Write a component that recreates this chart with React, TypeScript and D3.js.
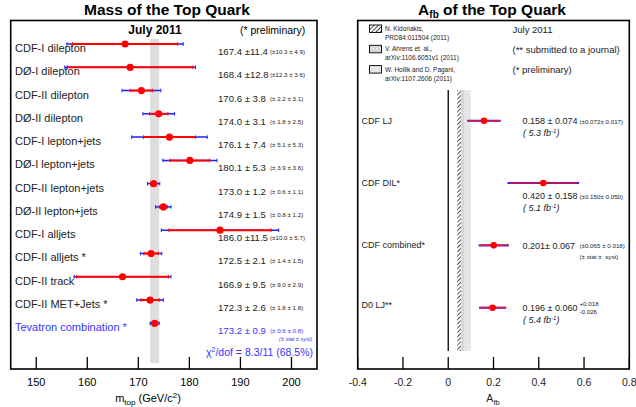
import * as d3 from "d3";

// ---- left panel: top mass measurements ----
const massLabels = [
  "CDF-I dilepton",
  "DØ-I dilepton",
  "CDF-II dilepton",
  "DØ-II dilepton",
  "CDF-I lepton+jets",
  "DØ-I lepton+jets",
  "CDF-II lepton+jets",
  "DØ-II lepton+jets",
  "CDF-I alljets",
  "CDF-II alljets *",
  "CDF-II track",
  "CDF-II MET+Jets *",
  "Tevatron combination *",
];
const massValues = [167.4, 168.4, 170.6, 174.0, 176.1, 180.1, 173.0, 174.9, 186.0, 172.5, 166.9, 172.3, 173.2];
const massTotal = [11.4, 12.8, 3.8, 3.1, 7.4, 5.3, 1.2, 1.5, 11.5, 2.1, 9.5, 2.6, 0.9];
const massStat = [10.3, 12.3, 2.2, 1.8, 5.1, 3.9, 0.6, 0.8, 10.0, 1.4, 9.0, 1.8, 0.6];
const massSyst = [4.9, 3.6, 3.1, 2.5, 5.3, 3.6, 1.1, 1.2, 5.7, 1.5, 2.9, 1.8, 0.8];
const massTicks = [150, 160, 170, 180, 190, 200];

// ---- right panel: A_fb ----
const afbLabels = ["CDF LJ", "CDF DIL*", "CDF combined*", "D0 LJ**"];
const afbValues = [0.158, 0.42, 0.201, 0.196];
const afbTotal = [0.074, 0.158, 0.067, 0.06];
const afbStat = [0.072, 0.15, 0.065, 0.06];
const afbValueText = ["0.158 ± 0.074", "0.420 ± 0.158", "0.201± 0.067", "0.196 ± 0.060"];
const afbSmallText = ["(±0.072± 0.017)", "(±0.150± 0.050)", "(±0.065 ± 0.018)", ""];
const afbLumi = ["5.3", "5.1", "", "5.4"];
const afbTicks = [-0.4, -0.2, 0, 0.2, 0.4, 0.6, 0.8];
const afbTickText = ["-0.4", "-0.2", "0", "0.2", "0.4", "0.6", "0.8"];
// theory bands [low, high]
const theoryKidonakis = [0.04, 0.056];
const theoryAhrens = [0.056, 0.073];
const theoryHollik = [0.073, 0.1];

const font = "'Liberation Sans', Arial, Helvetica, sans-serif";
const red = "#ff0000";
const blue = "#1f1fff";
const textBlue = "#3535ff";

const fmt = (v: number, w: number) => {
  const s = v.toFixed(1);
  return s.length < w ? " " + s : s;
};

const MassPanel = () => {
  const x = d3.scaleLinear().domain([145, 205]).range([10.7, 317]);
  const y = d3.scalePoint<string>().domain(massLabels).range([44, 323.3]);
  const frameTop = 20.5;
  const frameBottom = 369;
  return (
    <g>
      <text x={167} y={15} textAnchor="middle" fontSize={15.5} fontWeight="bold">
        Mass of the Top Quark
      </text>
      <rect x={x(145)} y={frameTop} width={x(205) - x(145)} height={frameBottom - frameTop} fill="none" stroke="black" strokeWidth={1.6} />
      <text x={155} y={34} textAnchor="middle" fontSize={12} fontWeight="bold">
        July 2011
      </text>
      <text x={240} y={34} fontSize={10.5}>
        (* preliminary)
      </text>
      <rect
        x={x(massValues[12] - massTotal[12])}
        y={39}
        width={x(massValues[12] + massTotal[12]) - x(massValues[12] - massTotal[12])}
        height={363 - 39}
        fill="#dedede"
      />
      {massLabels.map((lab, i) => {
        const cy = y(lab)!;
        const last = i === massLabels.length - 1;
        const col = last ? textBlue : "#222";
        const v = massValues[i];
        return (
          <g key={lab}>
            <text x={15} y={cy + 8} fontSize={11} fill={col}>
              {lab}
            </text>
            <line x1={x(v - massTotal[i])} x2={x(v + massTotal[i])} y1={cy} y2={cy} stroke={blue} strokeWidth={1.5} />
            <line x1={x(v - massTotal[i])} x2={x(v - massTotal[i])} y1={cy - 1.8} y2={cy + 1.8} stroke={blue} strokeWidth={1} />
            <line x1={x(v + massTotal[i])} x2={x(v + massTotal[i])} y1={cy - 1.8} y2={cy + 1.8} stroke={blue} strokeWidth={1} />
            <line x1={x(v - massStat[i])} x2={x(v + massStat[i])} y1={cy} y2={cy} stroke={red} strokeWidth={2} />
            <line x1={x(v - massStat[i])} x2={x(v - massStat[i])} y1={cy - 1.8} y2={cy + 1.8} stroke={red} strokeWidth={1} />
            <line x1={x(v + massStat[i])} x2={x(v + massStat[i])} y1={cy - 1.8} y2={cy + 1.8} stroke={red} strokeWidth={1} />
            <circle cx={x(v)} cy={cy} r={3.6} fill={red} />
            <text x={218} y={cy + 11} fontSize={9.6} fill={col} xmlSpace="preserve">
              {`${v.toFixed(1)} ±${fmt(massTotal[i], 4)}`}
            </text>
            <text x={270} y={cy + 10} fontSize={6.2} fill={col} xmlSpace="preserve">
              {`(±${fmt(massStat[i], 4)} ±${fmt(massSyst[i], 4)})`}
            </text>
          </g>
        );
      })}
      <text x={312} y={y(massLabels[12])! + 18} fontSize={5.5} fill={textBlue} textAnchor="end" fontStyle="italic">
        (± stat ± syst)
      </text>
      <text x={313} y={y(massLabels[12])! + 33} fontSize={10.5} fill={textBlue} textAnchor="end">
        χ<tspan dy={-4} fontSize={7}>2</tspan>
        <tspan dy={4}>/dof = 8.3/11 (68.5%)</tspan>
      </text>
      {massTicks.map((t) => (
        <g key={t}>
          <line x1={x(t)} x2={x(t)} y1={frameBottom} y2={frameBottom - 12} stroke="black" strokeWidth={1.3} />
          <text x={x(t)} y={386} textAnchor="middle" fontSize={11}>
            {t}
          </text>
        </g>
      ))}
      <text x={148} y={402} textAnchor="middle" fontSize={11}>
        m<tspan dy={3} fontSize={8}>top</tspan>
        <tspan dy={-3}> (GeV/c</tspan>
        <tspan dy={-4} fontSize={8}>2</tspan>
        <tspan dy={4}>)</tspan>
      </text>
    </g>
  );
};

const AfbPanel = () => {
  const x = d3.scaleLinear().domain([-0.4, 0.8]).range([357.7, 629.3]);
  const y = d3.scalePoint<string>().domain(afbLabels).range([120.7, 307.7]);
  const frameTop = 20.5;
  const frameBottom = 369;
  const bandTop = 90;
  const bandBottom = 351;
  const legend = [
    { fill: "url(#hatch)", l1: "N. Kidonakis,", l2: "PRD84:011504 (2011)" },
    { fill: "url(#dots)", l1: "V. Ahrens et. al.,", l2: "arXiv:1106.6051v1 (2011)" },
    { fill: "#e6e6e6", l1: "W. Hollik and D. Pagani,", l2: "arXiv:1107.2606 (2011)" },
  ];
  const notes = ["July 2011", "(** submitted to a journal)", "(* preliminary)"];
  return (
    <g>
      <text x={492} y={15} textAnchor="middle" fontSize={15.5} fontWeight="bold">
        A<tspan dy={3} fontSize={10}>fb</tspan>
        <tspan dy={-3}> of the Top Quark</tspan>
      </text>
      <rect x={x(-0.4)} y={frameTop} width={x(0.8) - x(-0.4)} height={frameBottom - frameTop} fill="none" stroke="black" strokeWidth={1.6} />
      {legend.map((l, i) => (
        <g key={l.l1}>
          <rect x={369.5} y={25 + i * 20.3} width={12} height={7.5} fill={l.fill} stroke="black" strokeWidth={0.9} />
          <text x={385} y={31 + i * 20.3} fontSize={6.5} fill="#222">
            {l.l1}
          </text>
          <text x={385} y={40 + i * 20.3} fontSize={6.5} fill="#222">
            {l.l2}
          </text>
        </g>
      ))}
      {notes.map((n, i) => (
        <text key={n} x={512.5} y={32.5 + i * 20.3} fontSize={9.5} fill="#222">
          {n}
        </text>
      ))}
      <rect x={x(theoryHollik[0])} y={bandTop} width={x(theoryHollik[1]) - x(theoryHollik[0])} height={bandBottom - bandTop} fill="#e6e6e6" />
      <rect x={x(theoryAhrens[0])} y={bandTop} width={x(theoryAhrens[1]) - x(theoryAhrens[0])} height={bandBottom - bandTop} fill="url(#dots)" />
      <rect x={x(theoryKidonakis[0])} y={bandTop} width={x(theoryKidonakis[1]) - x(theoryKidonakis[0])} height={bandBottom - bandTop} fill="url(#hatch)" />
      <line x1={x(0)} x2={x(0)} y1={bandTop} y2={bandBottom} stroke="black" strokeWidth={1.3} />
      {afbLabels.map((lab, i) => {
        const cy = y(lab)!;
        const v = afbValues[i];
        const below = i === 1;
        const ty = below ? cy + 16 : cy + 3.5;
        return (
          <g key={lab}>
            <text x={361.5} y={i === 3 ? cy : cy + 3} fontSize={9} fill="#222">
              {lab}
            </text>
            <line x1={x(v - afbTotal[i])} x2={x(v + afbTotal[i])} y1={cy} y2={cy} stroke={blue} strokeWidth={2} />
            <line x1={x(v - afbStat[i])} x2={x(v + afbStat[i])} y1={cy} y2={cy} stroke="#e0103a" strokeWidth={1.6} />
            <circle cx={x(v)} cy={cy} r={3.3} fill={red} />
            <text x={522.5} y={ty} fontSize={9} fill="#222">
              {afbValueText[i]}
            </text>
            {afbSmallText[i] && (
              <text x={579.5} y={ty - 0.5} fontSize={6.2} fill="#222">
                {afbSmallText[i]}
              </text>
            )}
            {afbLumi[i] && (
              <text x={523} y={ty + 12} fontSize={9} fill="#222" fontStyle="italic">
                ( {afbLumi[i]} fb<tspan dy={-3.5} fontSize={6}>-1</tspan>
                <tspan dy={3.5}>)</tspan>
              </text>
            )}
          </g>
        );
      })}
      <text x={579.5} y={y(afbLabels[2])! + 13.5} fontSize={6.2} fill="#222" xmlSpace="preserve">
        (± stat ±  syst)
      </text>
      <text x={579.5} y={y(afbLabels[3])! - 1.5} fontSize={6.2} fill="#222">
        +0.018
      </text>
      <text x={579.5} y={y(afbLabels[3])! + 6.5} fontSize={6.2} fill="#222">
        -0.026
      </text>
      {afbTicks.map((t, i) => (
        <g key={t}>
          <line x1={x(t)} x2={x(t)} y1={frameBottom} y2={frameBottom - 12} stroke="black" strokeWidth={1.3} />
          <text x={x(t)} y={386} textAnchor="middle" fontSize={10.5} fill="#222">
            {afbTickText[i]}
          </text>
        </g>
      ))}
      <text x={493} y={402} textAnchor="middle" fontSize={10.5} fill="#222">
        A<tspan dy={3} fontSize={7.5}>fb</tspan>
      </text>
    </g>
  );
};

export default function App() {
  return (
    <svg
      width={636}
      height={407}
      viewBox="0 0 636 407"
      style={{ position: "absolute", left: 0, top: 0, fontFamily: font }}
    >
      <defs>
        <pattern id="hatch" width={3} height={3} patternUnits="userSpaceOnUse" patternTransform="rotate(45)">
          <rect width={3} height={3} fill="white" />
          <line x1={0} y1={0} x2={0} y2={3} stroke="black" strokeWidth={1.4} />
        </pattern>
        <pattern id="dots" width={4} height={4} patternUnits="userSpaceOnUse">
          <rect width={4} height={4} fill="#d6d6d6" />
          <circle cx={1} cy={1} r={0.7} fill="white" />
        </pattern>
      </defs>
      <rect width={636} height={407} fill="white" />
      <MassPanel />
      <AfbPanel />
    </svg>
  );
}
